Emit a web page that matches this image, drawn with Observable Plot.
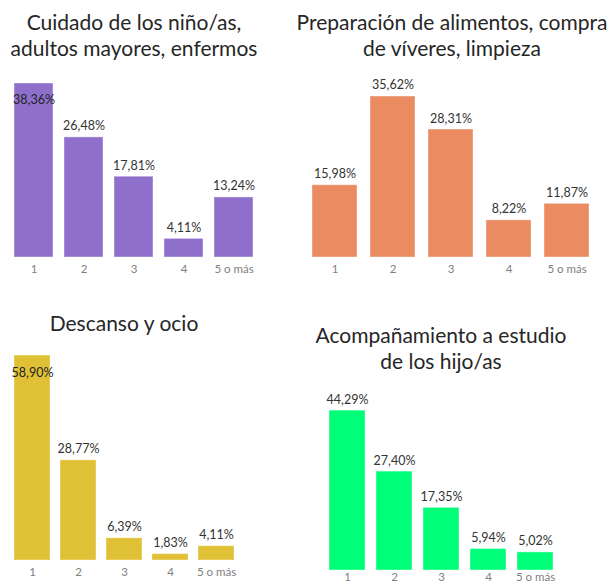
<!DOCTYPE html>
<html><head><meta charset="utf-8">
<script src="https://cdn.jsdelivr.net/npm/d3@7"></script>
<script src="https://cdn.jsdelivr.net/npm/@observablehq/plot@0.6"></script>
<style>
body{margin:0;background:#fff;}
#root{position:relative;width:611px;height:584px;overflow:hidden;font-family:Lato,sans-serif;background:#fff;}
.title{position:absolute;text-align:center;color:#262626;font-size:21px;line-height:26px;white-space:nowrap;width:400px;}
.panel{position:absolute;}
</style></head><body><div id="root"></div><script>
const categories = ["1", "2", "3", "4", "5 o más"];
const titleCuidado = ["Cuidado de los niño/as,", "adultos mayores, enfermos"];
const titlePreparacion = ["Preparación de alimentos, compra", "de víveres, limpieza"];
const titleDescanso = ["Descanso y ocio"];
const titleAcompanamiento = ["Acompañamiento a estudio", "de los hijo/as"];
const cuidado = [38.36, 26.48, 17.81, 4.11, 13.24];
const preparacion = [15.98, 35.62, 28.31, 8.22, 11.87];
const descanso = [58.90, 28.77, 6.39, 1.83, 4.11];
const acompanamiento = [44.29, 27.40, 17.35, 5.94, 5.02];

const root = document.getElementById("root");
const fmt = v => d3.format(".2f")(v).replace(".", ",") + "%";

const panels = [
  {title: titleCuidado, values: cuidado, color: "#8E70CC", inside: true,
   left: 0, top: 60, width: 305, height: 230, xr: [13, 254], pi: 0.228,
   yd: [0, 40], base: 197, ppu: 4.536, titleX: 134, titleTop: 9, tickPad: 7},
  {title: titlePreparacion, values: preparacion, color: "#EB8B62", inside: false,
   left: 300, top: 60, width: 311, height: 230, xr: [10, 290], pi: 0.226,
   yd: [0, 40], base: 197, ppu: 4.52, titleX: 452, titleTop: 9, tickPad: 7},
  {title: titleDescanso, values: descanso, color: "#E0C035", inside: true,
   left: 0, top: 340, width: 305, height: 244, xr: [12, 236], pi: 0.22,
   yd: [0, 60], base: 220, ppu: 3.48, titleX: 124, titleTop: 310, tickPad: 7},
  {title: titleAcompanamiento, values: acompanamiento, color: "#00FF78", inside: false,
   left: 300, top: 380, width: 311, height: 204, xr: [28, 254], pi: 0.236,
   yd: [0, 50], base: 190, ppu: 3.61, titleX: 441, titleTop: 322, tickPad: 2}
];

for (const p of panels) {
  const data = categories.map((c, i) => ({cat: c, value: p.values[i]}));
  const maxV = d3.max(p.values);
  const outsideData = data.filter(d => !(p.inside && d.value === maxV));
  const insideData = data.filter(d => p.inside && d.value === maxV);
  const chart = Plot.plot({
    width: p.width,
    height: p.height,
    marginTop: 0, marginBottom: p.height - p.base, marginLeft: 0, marginRight: 0,
    style: {fontFamily: "Lato, sans-serif", fontSize: "12px", background: "transparent", overflow: "visible"},
    x: {type: "band", domain: categories, range: p.xr, paddingInner: p.pi, paddingOuter: 0, label: null},
    y: {domain: p.yd, range: [p.base, p.base - p.ppu * p.yd[1]], axis: null},
    marks: [
      Plot.barY(data, {x: "cat", y: "value", fill: p.color, stroke: "#ffffff", strokeOpacity: 0.4, strokeWidth: 1}),
      Plot.text(outsideData, {x: "cat", y: "value", text: d => fmt(d.value), dy: -11, fill: "#333333", fontSize: 12.5}),
      Plot.text(insideData, {x: "cat", y: "value", text: d => fmt(d.value), dy: 17, fill: "#222222", fontSize: 12.5}),
      Plot.axisX({tickSize: 0, tickPadding: p.tickPad, color: "#7f7f7f", fontSize: 11.5, label: null})
    ]
  });
  chart.classList.add("panel");
  chart.style.left = p.left + "px";
  chart.style.top = p.top + "px";
  chart.style.position = "absolute";
  root.appendChild(chart);

  const t = document.createElement("div");
  t.className = "title";
  t.style.left = (p.titleX - 200) + "px";
  t.style.top = p.titleTop + "px";
  t.innerHTML = p.title.map(s => `<div>${s}</div>`).join("");
  root.appendChild(t);
}
</script></body></html>
